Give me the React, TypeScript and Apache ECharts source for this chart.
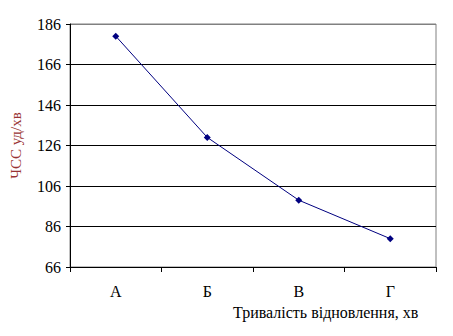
import React, { useEffect, useRef } from "react";
import * as echarts from "echarts";

const categories = ["А", "Б", "В", "Г"];
const heartRate = [180, 130, 99, 80];
const yMin = 66;
const yMax = 186;
const yStep = 20;
const yTitle = "ЧСС уд/хв";
const xTitle = "Тривалість відновлення, хв";

export default function App() {
  const ref = useRef<HTMLDivElement>(null);
  useEffect(() => {
    if (!ref.current) return;
    const chart = echarts.init(ref.current, null, { renderer: "svg" });
    const font = "Liberation Serif";
    chart.setOption({
      animation: false,
      backgroundColor: "#ffffff",
      textStyle: { fontFamily: font },
      grid: {
        left: 65,
        top: 24,
        right: 17,
        bottom: 69,
        show: true,
        borderColor: "#808080",
        borderWidth: 1,
      },
      xAxis: {
        type: "category",
        data: categories,
        boundaryGap: true,
        axisLine: { lineStyle: { color: "#000", width: 1 } },
        axisTick: { show: true, length: 5, lineStyle: { color: "#000" } },
        axisLabel: { color: "#000", fontFamily: font, fontSize: 16, margin: 16 },
        splitLine: { show: false },
      },
      yAxis: {
        type: "value",
        min: yMin,
        max: yMax,
        interval: yStep,
        name: yTitle,
        nameLocation: "middle",
        nameGap: 47,
        nameTextStyle: { color: "#993333", fontFamily: font, fontSize: 15 },
        axisLine: { show: true, lineStyle: { color: "#000", width: 1 } },
        axisTick: { show: true, length: 4, lineStyle: { color: "#000" } },
        axisLabel: { color: "#000", fontFamily: font, fontSize: 16, margin: 9 },
        splitLine: {
          show: true,
          lineStyle: {
            color: ["#000", "#000", "#000", "#000", "#000", "#000", "#808080"],
            width: 1,
          },
        },
      },
      graphic: [
        {
          type: "text",
          left: 233,
          top: 304,
          style: {
            text: xTitle,
            fill: "#000",
            fontFamily: font,
            fontSize: 16,
          },
        },
      ],
      series: [
        {
          type: "line",
          data: heartRate,
          color: "#000080",
          lineStyle: { color: "#000080", width: 1 },
          itemStyle: { color: "#000080" },
          symbol: "diamond",
          symbolSize: 7,
        },
      ],
    });
    return () => chart.dispose();
  }, []);
  return (
    <div
      ref={ref}
      style={{ position: "fixed", left: 0, top: 0, width: 453, height: 336 }}
    />
  );
}
